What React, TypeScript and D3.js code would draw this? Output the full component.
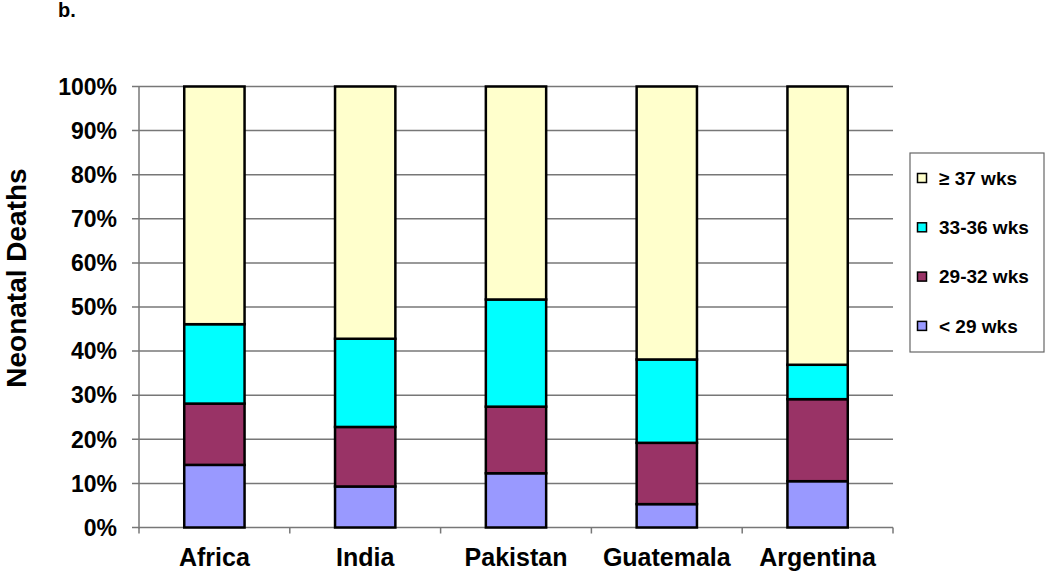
import React from "react";
import * as d3 from "d3";

const regions = ["Africa", "India", "Pakistan", "Guatemala", "Argentina"];
const seriesNames = ["< 29 wks", "29-32 wks", "33-36 wks", "≥ 37 wks"];
const under29 = [14.2, 9.3, 12.3, 5.3, 10.5];
const wk29to32 = [13.9, 13.5, 15.1, 13.9, 18.6];
const wk33to36 = [18.0, 20.0, 24.3, 18.9, 7.8];
const over37 = [53.9, 57.2, 48.3, 61.9, 63.1];
const yTicks = [0, 10, 20, 30, 40, 50, 60, 70, 80, 90, 100];
const colors = ["#9999ff", "#993366", "#00ffff", "#ffffcc"];

const W = 1050;
const H = 571;
const left = 139;
const right = 893;
const top = 86.5;
const bottom = 527.5;

export default function App() {
  const x = d3.scaleBand<string>().domain(regions).range([left, right]).paddingInner(0.6).paddingOuter(0.3);
  const y = d3.scaleLinear().domain([0, 100]).range([bottom, top]);

  const rows = regions.map((r, i) => ({
    region: r,
    s0: under29[i],
    s1: wk29to32[i],
    s2: wk33to36[i],
    s3: over37[i],
  }));
  const stacked = d3.stack<any>().keys(["s0", "s1", "s2", "s3"])(rows);

  const font = "Arial, 'Liberation Sans', sans-serif";
  const step = x.step();

  // legend order top-down: ≥37 first
  const legendOrder = [3, 2, 1, 0];

  return (
    <svg width={W} height={H} style={{ position: "absolute", left: 0, top: 0 }} fontFamily={font}>
      <text x={58} y={17} fontSize={20} fontWeight="bold">b.</text>

      {/* gridlines and y ticks */}
      {yTicks.map((t) => (
        <g key={t}>
          <line x1={left - 7} x2={t === 0 ? left : right} y1={y(t)} y2={y(t)} stroke="#777" strokeWidth={1.5} />
          <text x={117} y={y(t)} dy="0.36em" textAnchor="end" fontSize={23} fontWeight="bold" fill="#000">
            {t}%
          </text>
        </g>
      ))}

      {/* axes */}
      <line x1={left} x2={left} y1={top} y2={bottom + 1} stroke="#777" strokeWidth={1.5} />
      <line x1={left} x2={right} y1={bottom} y2={bottom} stroke="#777" strokeWidth={1.5} />
      {d3.range(regions.length + 1).map((i) => (
        <line key={i} x1={left + i * step} x2={left + i * step} y1={bottom} y2={bottom + 6} stroke="#777" strokeWidth={1.5} />
      ))}

      {/* bars */}
      {stacked.map((layer, li) =>
        layer.map((seg, i) => (
          <rect
            key={`${li}-${i}`}
            x={x(regions[i])!}
            y={y(seg[1])}
            width={x.bandwidth()}
            height={y(seg[0]) - y(seg[1])}
            fill={colors[li]}
            stroke="#000"
            strokeWidth={2.5}
          />
        ))
      )}

      {/* x labels */}
      {regions.map((r) => (
        <text key={r} x={x(r)! + x.bandwidth() / 2} y={566} textAnchor="middle" fontSize={25} fontWeight="bold">
          {r}
        </text>
      ))}

      {/* y title */}
      <text transform={`translate(26, 278) rotate(-90)`} textAnchor="middle" fontSize={28} fontWeight="bold">
        Neonatal Deaths
      </text>

      {/* legend */}
      <rect x={910} y={153} width={134} height={199} fill="#fff" stroke="#666" strokeWidth={1.2} />
      {legendOrder.map((si, k) => {
        const cy = 178 + k * 49.3;
        return (
          <g key={si}>
            <rect x={917.5} y={cy - 4.5} width={9} height={9} fill={colors[si]} stroke="#000" strokeWidth={1.5} />
            <text x={939} y={cy} dy="0.36em" fontSize={19} fontWeight="bold">
              {seriesNames[si]}
            </text>
          </g>
        );
      })}
    </svg>
  );
}
